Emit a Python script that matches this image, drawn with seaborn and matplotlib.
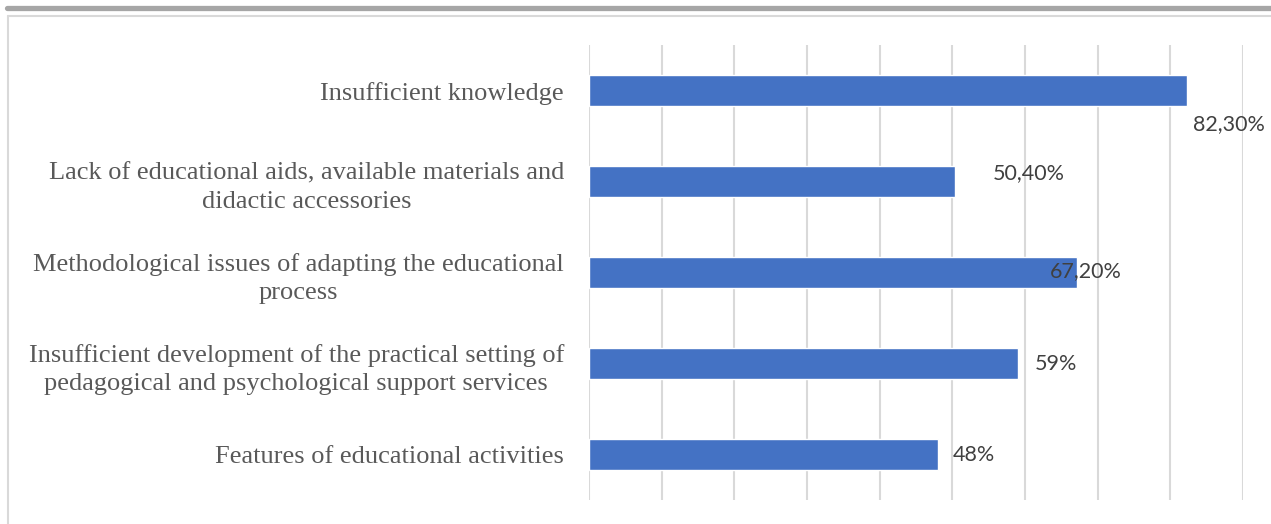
import matplotlib
matplotlib.use("Agg")
import matplotlib.pyplot as plt
import seaborn as sns
import pandas as pd
from matplotlib.lines import Line2D

categories = [
    "Insufficient knowledge",
    "Lack of educational aids, available materials and\ndidactic accessories",
    "Methodological issues of adapting the educational\nprocess",
    "Insufficient development of the practical setting of\npedagogical and psychological support services",
    "Features of educational activities",
]
values = [82.3, 50.4, 67.2, 59.0, 48.0]
value_labels = ["82,30%", "50,40%", "67,20%", "59%", "48%"]
# label offsets in points (dx, dy) mimicking the original placement
label_offsets = [(4, -24), (27, 6), (-20, 1), (12, 0), (11, 0)]

sns.set_style("white")
plt.rcParams['font.family'] = ['DejaVu Sans']

df = pd.DataFrame({"cat": categories, "val": values})

fig = plt.figure(figsize=(12.71, 5.24), dpi=100)
ax = fig.add_axes([0.4634, 0.0458, 0.5146, 0.868])

sns.barplot(data=df, y="cat", x="val", orient="h", color="#4472C4",
            width=0.34, saturation=1, ax=ax, zorder=3)

ax.set_xlim(0, 90)
ax.set_ylim(4.5, -0.5)
ax.set_xticks(range(0, 91, 10))
ax.xaxis.grid(True, color="#d9d9d9", linewidth=1.5, zorder=0)
ax.yaxis.grid(False)
ax.set_axisbelow(True)
ax.tick_params(axis="x", length=0, labelbottom=False)
ax.tick_params(axis="y", length=0, pad=18)
for s in ax.spines.values():
    s.set_visible(False)
ax.set_xlabel("")
ax.set_ylabel("")
for lbl in ax.get_yticklabels():
    lbl.set_fontfamily("Liberation Serif")
    lbl.set_fontsize(19)
    lbl.set_color("#595959")
    lbl.set_horizontalalignment("right")
    lbl.set_multialignment("center")
    lbl.set_linespacing(1.38)

for i, (v, t, (dx, dy)) in enumerate(zip(values, value_labels, label_offsets)):
    ax.annotate(t, xy=(v, i), xytext=(dx, dy), textcoords="offset points",
                ha="left", va="center", fontsize=15.5, color="#404040",
                family="Lato", zorder=5)

# page decorations: thick gray top rule and light frame
fig.add_artist(Line2D([7/1271, 1], [1-7.5/524, 1-7.5/524], color="#a6a6a6",
                      linewidth=3.8, transform=fig.transFigure))
fig.add_artist(Line2D([7.5/1271, 1], [1-15.5/524, 1-15.5/524], color="#d9d9d9",
                      linewidth=1.5, transform=fig.transFigure))
fig.add_artist(Line2D([7.5/1271, 7.5/1271], [0, 1-15.5/524], color="#d9d9d9",
                      linewidth=1.5, transform=fig.transFigure))

fig.savefig("out.png", dpi=100)
